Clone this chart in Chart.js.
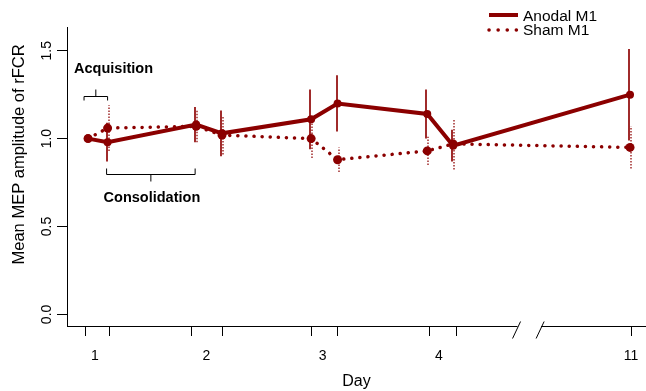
<!DOCTYPE html>
<html>
<head>
<meta charset="utf-8">
<script src="https://cdn.jsdelivr.net/npm/chart.js@4.4.1/dist/chart.umd.min.js"></script>
<style>
  html, body { margin: 0; padding: 0; background: #fff; }
</style>
</head>
<body>
<canvas id="chart" width="646" height="391"></canvas>
<script>
// session positions on a compressed day axis (pre / post of each day, day 11 after the break)
const sessionPos = [1.00, 1.17, 1.94, 2.165, 2.94, 3.17, 3.95, 4.175, 5.713];
const sessionTicks = [0.974, 1.183, 1.904, 2.165, 2.939, 3.165, 3.965, 4.20, 5.722];
const dayLabels = ['1', '2', '3', '4', '11'];
const dayLabelPos = [1.06, 2.03, 3.04, 4.05, 5.722];
const axisBreak = [4.735, 4.94];

const anodalMean = [1.00, 0.98, 1.08, 1.03, 1.11, 1.20, 1.14, 0.96, 1.25];
const anodalErr = [0, 0.11, 0.10, 0.13, 0.17, 0.16, 0.14, 0.09, 0.26];
const shamMean = [1.00, 1.06, 1.07, 1.02, 1.00, 0.88, 0.93, 0.97, 0.95];
const shamErr = [0, 0.13, 0.09, 0.11, 0.11, 0.07, 0.08, 0.145, 0.12];

const yTicks = [0, 0.5, 1.0, 1.5];

const FONT = "'Liberation Sans', Arial, sans-serif";
const RED = '#8B0000';

const toPoints = (ys) => ys.map((y, i) => ({ x: sessionPos[i], y }));

// keep the plot box exactly where the layout puts it (no label overhang padding)
const noPad = (s) => { s.paddingLeft = 0; s.paddingRight = 0; s.paddingTop = 0; s.paddingBottom = 0; };

// vertical error bars, drawn under the lines
const errorBars = {
  id: 'errorBars',
  beforeDatasetsDraw(chart) {
    const { ctx } = chart;
    const xs = chart.scales.x, ys = chart.scales.y;
    chart.data.datasets.forEach((ds) => {
      if (!ds.errors) return;
      ctx.save();
      ctx.strokeStyle = ds.errColor;
      ctx.lineWidth = ds.errWidth;
      ctx.setLineDash(ds.errDash);
      ds.data.forEach((p, j) => {
        const e = ds.errors[j];
        if (!e) return;
        const px = Math.round(xs.getPixelForValue(p.x)) + ds.errShift;
        ctx.beginPath();
        ctx.moveTo(px, ys.getPixelForValue(p.y - e));
        ctx.lineTo(px, ys.getPixelForValue(p.y + e));
        ctx.stroke();
      });
      ctx.restore();
    });
  },
};

// axis break, brackets, labels, legend, y title
const decorations = {
  id: 'decorations',
  afterDraw(chart) {
    const { ctx, chartArea: a } = chart;
    const xs = chart.scales.x, ys = chart.scales.y;
    const X = (v) => xs.getPixelForValue(v);
    const Y = (v) => ys.getPixelForValue(v);
    ctx.save();
    ctx.strokeStyle = '#000';
    ctx.lineWidth = 1;

    // x axis line with break
    const b0 = X(axisBreak[0]), b1 = X(axisBreak[1]);
    const yb = a.bottom + 0.5;
    ctx.beginPath();
    ctx.moveTo(a.left, yb); ctx.lineTo(b0, yb);
    ctx.moveTo(b1, yb); ctx.lineTo(a.right, yb);
    [b0, b1].forEach((bx) => {
      ctx.moveTo(bx - 5, yb + 12);
      ctx.lineTo(bx + 3, yb - 5);
    });
    ctx.stroke();

    // acquisition bracket (day 1 pre -> post)
    const ax0 = X(sessionPos[0]) - 4, ax1 = X(sessionPos[1]);
    const ay = Math.round(Y(1.244)) + 0.5;
    const amid = (ax0 + ax1) / 2;
    ctx.beginPath();
    ctx.moveTo(ax0, ay + 4); ctx.lineTo(ax0, ay); ctx.lineTo(ax1, ay); ctx.lineTo(ax1, ay + 4);
    ctx.moveTo(amid, ay); ctx.lineTo(amid, ay - 7);
    ctx.stroke();

    // consolidation bracket (day 1 post -> day 2 pre)
    const cx0 = X(sessionPos[1]) - 1, cx1 = X(sessionPos[2]) - 1;
    const cy = Math.round(Y(0.797)) + 0.5;
    const cmid = (cx0 + cx1) / 2;
    ctx.beginPath();
    ctx.moveTo(cx0, cy - 6); ctx.lineTo(cx0, cy); ctx.lineTo(cx1, cy); ctx.lineTo(cx1, cy - 6);
    ctx.moveTo(cmid, cy); ctx.lineTo(cmid, cy + 7);
    ctx.stroke();

    ctx.fillStyle = '#000';
    ctx.font = 'bold 14.5px ' + FONT;
    ctx.textBaseline = 'alphabetic';
    ctx.textAlign = 'left';
    ctx.fillText('Acquisition', ax0 - 10, Y(1.373));
    ctx.fillText('Consolidation', cx0 - 3, Y(0.637));

    // y axis title
    ctx.font = '16.5px ' + FONT;
    ctx.textAlign = 'center';
    ctx.textBaseline = 'middle';
    ctx.save();
    ctx.translate(19.5, Y(0.91));
    ctx.rotate(-Math.PI / 2);
    ctx.fillText('Mean MEP amplitude of rFCR', 0, 0);
    ctx.restore();

    // legend
    const lx0 = 489, lx1 = 518, tx = 523;
    ctx.strokeStyle = RED;
    ctx.lineWidth = 4;
    ctx.beginPath();
    ctx.moveTo(lx0, 15); ctx.lineTo(lx1, 15);
    ctx.stroke();
    ctx.lineCap = 'round';
    ctx.lineWidth = 3.5;
    ctx.setLineDash([0.1, 9]);
    ctx.beginPath();
    ctx.moveTo(lx0, 30); ctx.lineTo(lx1, 30);
    ctx.stroke();
    ctx.setLineDash([]);
    ctx.font = '15.5px ' + FONT;
    ctx.textAlign = 'left';
    ctx.textBaseline = 'alphabetic';
    ctx.fillStyle = '#000';
    ctx.fillText('Anodal M1', tx, 21);
    ctx.fillText('Sham M1', tx, 35);
    ctx.restore();
  },
};

new Chart(document.getElementById('chart'), {
  type: 'line',
  data: {
    datasets: [
      {
        label: 'Anodal M1',
        data: toPoints(anodalMean),
        borderColor: RED,
        backgroundColor: RED,
        borderWidth: 4,
        pointRadius: 4,
        pointHoverRadius: 4,
        pointBorderWidth: 0,
        tension: 0,
        errors: anodalErr,
        errColor: 'rgba(150,20,20,0.9)',
        errWidth: 2,
        errDash: [],
        errShift: -1,
      },
      {
        label: 'Sham M1',
        data: toPoints(shamMean),
        borderColor: RED,
        backgroundColor: RED,
        borderWidth: 3.5,
        borderDash: [0.1, 8],
        borderCapStyle: 'round',
        pointRadius: 4.5,
        pointHoverRadius: 4.5,
        pointBorderWidth: 0,
        tension: 0,
        errors: shamErr,
        errColor: 'rgba(150,20,20,0.9)',
        errWidth: 1.5,
        errDash: [1.5, 1.5],
        errShift: 1,
      },
    ],
  },
  options: {
    responsive: false,
    animation: false,
    events: [],
    layout: { autoPadding: false, padding: { top: 27, right: 0, left: 0, bottom: 0 } },
    plugins: { legend: { display: false }, tooltip: { enabled: false } },
    scales: {
      x: {
        type: 'linear',
        position: 'bottom',
        weight: 0,
        min: 0.817,
        max: 5.852,
        afterBuildTicks: (s) => { s.ticks = sessionTicks.map((v) => ({ value: v })); },
        afterFit: (s) => { s.height = 10; noPad(s); },
        grid: { drawOnChartArea: false, drawTicks: true, tickLength: 10, color: '#000', tickColor: '#000' },
        border: { display: false },
        ticks: { callback: () => '', padding: 0 },
      },
      xDay: {
        type: 'linear',
        position: 'bottom',
        weight: 1,
        min: 0.817,
        max: 5.852,
        afterBuildTicks: (s) => { s.ticks = dayLabelPos.map((v) => ({ value: v })); },
        afterFit: (s) => { s.height = 55; noPad(s); },
        grid: { display: false },
        border: { display: false },
        ticks: {
          padding: 4,
          color: '#000',
          font: { family: FONT, size: 14 },
          maxRotation: 0,
          autoSkip: false,
          callback: (v, i) => dayLabels[i],
        },
        title: {
          display: true,
          text: 'Day',
          color: '#000',
          font: { family: FONT, size: 16 },
          padding: { top: 4, bottom: 0 },
        },
      },
      y: {
        type: 'linear',
        min: -0.066,
        max: 1.635,
        afterBuildTicks: (s) => { s.ticks = yTicks.map((v) => ({ value: v })); },
        afterFit: (s) => { s.width = 67; noPad(s); },
        grid: { drawOnChartArea: false, drawTicks: true, tickLength: 10, color: '#000', tickColor: '#000' },
        border: { display: true, color: '#000', width: 1 },
        ticks: {
          color: '#000',
          font: { family: FONT, size: 14 },
          minRotation: 90,
          maxRotation: 90,
          crossAlign: 'center',
          padding: 0,
          callback: (v) => v.toFixed(1),
        },
      },
    },
  },
  plugins: [errorBars, decorations],
});
</script>
</body>
</html>
